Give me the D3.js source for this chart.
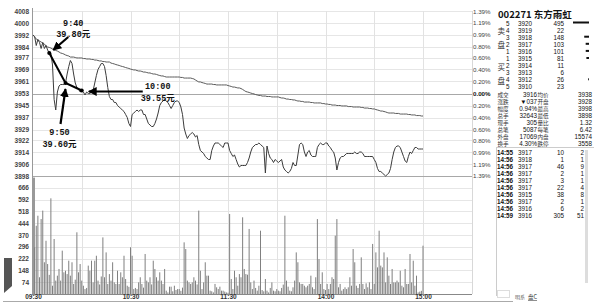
<!DOCTYPE html>
<html><head><meta charset="utf-8">
<script src="https://cdn.jsdelivr.net/npm/d3@7"></script>
<style>body{margin:0;background:#fff}svg{display:block}</style>
</head><body><svg id="c" width="594" height="308"></svg>
<script>
// ---------------- data ----------------
const prevClose = 3953;
const priceTicks = [4008,4000,3992,3984,3977,3969,3961,3953,3945,3937,3929,3922,3914,3906,3898];
const pctTicks = [1.39,1.19,0.99,0.80,0.60,0.40,0.20,0.00,-0.20,-0.40,-0.60,-0.80,-0.99,-1.19,-1.39];
const volTicks = [666,592,518,444,370,296,222,148,74];
const timeIdx = [0,60,120,180,240];
const timeText = ["09:30","10:30","11:30","14:00","15:00"];
const gridIdx = [30,60,90,120,150,180,210,240];

const price = [3992,3991,3985,3989,3987,3983,3987,3983,3985,3982,
 3980,3980,3972,3949,3942,3954,3958,3959,3959,3959,
 3960,3966,3971,3975,3973,3966,3960,3957,3956,3954,
 3955,3954,3952,3954,3953,3953,3954,3955,3960,3965,
 3969,3971,3973,3973,3971,3965,3957,3951,3949,3949,
 3947,3947,3945,3944,3943,3942,3941,3939,3937,3933,
 3931,3939,3940,3941,3942,3941,3942,3942,3939,3939,
 3936,3933,3932,3931,3931,3933,3936,3940,3945,3947,
 3948,3949,3948,3947,3945,3943,3945,3947,3948,3948,
 3947,3944,3939,3930,3926,3923,3925,3926,3927,3926,
 3924,3925,3919,3915,3914,3913,3911,3910,3909,3909,
 3915,3918,3920,3920,3920,3919,3918,3917,3920,3920,
 3920,3915,3913,3911,3912,3909,3906,3904,3905,3905,
 3905,3905,3907,3910,3914,3917,3918,3919,3919,3920,
 3919,3918,3917,3900,3918,3913,3910,3909,3907,3909,
 3908,3907,3908,3909,3904,3902,3901,3900,3901,3903,
 3907,3905,3905,3912,3919,3920,3919,3914,3911,3914,
 3915,3912,3911,3911,3911,3917,3919,3920,3919,3919,
 3920,3920,3918,3917,3915,3914,3910,3902,3907,3910,
 3911,3911,3912,3913,3913,3913,3913,3913,3914,3913,
 3913,3914,3914,3913,3911,3911,3911,3911,3911,3911,
 3909,3907,3903,3901,3901,3900,3899,3898,3899,3900,
 3903,3909,3914,3917,3918,3918,3917,3914,3911,3908,
 3907,3911,3914,3913,3915,3917,3917,3916,3916,3916,
 3916];

const avgPrice = [3992,3990.7,3989.3,3988.7,3988,3987.3,3986.7,3986,3984.7,3984,
 3983.7,3983.3,3982.7,3982,3981.7,3981.3,3980.7,3980,3979.7,3979.3,
 3978.7,3978.3,3978,3977.3,3977.3,3977.3,3977,3976.7,3976.7,3976.7,
 3976.7,3976.3,3976.3,3976,3976,3976,3975.7,3975.7,3975.3,3975.3,
 3975,3974.7,3974.7,3974.3,3974.3,3974,3974,3974,3973.3,3973,
 3972.7,3972.3,3972,3971.7,3971.3,3971,3970.7,3970.3,3970,3969.7,
 3969.3,3969,3968.7,3968.7,3968.3,3968,3968,3967.7,3967.3,3967.3,
 3967,3966.7,3966.7,3966.3,3966,3966,3965.7,3965.3,3965,3964.7,
 3964.7,3964.3,3964,3964,3964,3964,3964,3964,3964,3964,
 3964,3963.7,3963.7,3963.3,3963.3,3963.3,3963.3,3963.3,3963,3962.7,
 3962,3961.3,3960.7,3960.7,3960.3,3960,3959.7,3959.3,3959.3,3959.3,
 3959.3,3959,3959,3958.7,3958.7,3958.7,3958.7,3958.7,3958.7,3958.7,
 3958.3,3958,3957.7,3957.3,3957.3,3957,3956.7,3956.7,3956.3,3955.7,
 3955,3954.3,3954,3953.7,3953.3,3953,3952.7,3952.3,3952,3951.7,
 3951.7,3951.3,3951.3,3951.3,3951,3951,3951,3950.7,3950.7,3950.7,
 3950.7,3950.7,3950.3,3950,3950,3949.7,3949.3,3949.3,3949,3949,
 3948.7,3948.7,3948.3,3948,3948,3947.7,3947.7,3947.3,3947.3,3947.3,
 3947.3,3947,3947,3946.7,3946.7,3946.7,3946.7,3946.7,3946.3,3946.3,
 3946,3946,3945.7,3945.7,3945.3,3945.3,3945.3,3945,3945,3945,
 3944.7,3944.7,3944.7,3944.7,3944.3,3944.3,3944.3,3944,3944,3944,
 3944,3944,3943.7,3943.7,3943.3,3943.3,3943.3,3943,3943,3942.7,
 3942.7,3942.3,3942,3941.7,3941.3,3941.3,3941,3940.7,3940.3,3940,
 3940,3940,3940,3939.7,3939.7,3939.7,3939.3,3939.3,3939.3,3939.3,
 3939.3,3939,3939,3938.7,3938.7,3938.7,3938.3,3938.3,3938.3,3938,
 3938];

const volume = [730,293,428,491,105,470,523,199,334,188,
 120,600,52,345,84,115,157,84,272,136,
 146,125,209,115,199,63,90,387,136,188,
 84,52,31,38,178,146,209,73,209,240,
 84,60,110,355,105,261,63,125,84,199,
 73,63,146,63,136,105,240,94,52,45,
 293,240,31,38,31,73,105,63,40,251,
 84,73,105,60,209,157,105,84,136,84,
 63,157,21,10,46,46,17,52,25,31,
 31,20,40,324,282,84,73,63,73,105,
 84,60,523,146,31,73,199,115,115,21,
 17,10,63,42,31,46,21,21,15,10,
 8,502,94,31,146,105,52,125,105,481,
 157,125,121,408,73,31,84,38,21,52,
 397,25,17,94,21,10,38,73,21,17,
 31,21,17,38,59,491,84,46,21,17,
 42,84,261,199,73,63,63,52,42,52,
 63,115,42,31,105,470,219,63,136,31,
 25,63,31,63,105,94,366,470,42,63,
 21,31,42,31,42,105,52,282,199,52,
 38,63,230,63,31,67,42,73,31,314,
 63,261,167,397,178,167,261,73,230,115,
 63,157,73,73,84,73,146,52,42,157,
 63,63,251,73,209,52,115,10,15,20,
 303];

const noteIdx = [10,20,30];
const noteTime = ["9:40","9:50","10:00"];
const notePrice = ["39.80元","39.60元","39.55元"];

const title = "002271 东方雨虹";
const bookLevel = ["5","4","3","2","1","1","2","3","4","5"];
const bookChar  = ["","卖","","盘","","","买","","盘",""];
const bookPrice = ["3920","3919","3918","3917","3916","3915","3914","3913","3912","3910"];
const bookVol   = [495,22,148,103,101,81,11,6,26,23];

const statLabel = ["成交","涨跌","幅度","总手","现手","总笔","外盘","换手"];
const statVal1  = ["3916","▼037","0.94%","32643","305","5087","17069","4.30%"];
const statMid   = ["均价","开盘","最高","最低","量比","每笔","内盘","跌停"];
const statVal2  = ["3938","3928","3998","3898","1.32","6.42","15574","3558"];

const tradeTime  = ["14:55","14:56","14:56","14:56","14:56","14:56","14:56","14:56","14:56","14:59"];
const tradePrice = ["3917","3918","3917","3917","3917","3917","3915","3917","3916","3916"];
const tradeVol   = [10,1,46,2,3,22,38,2,6,305];
const tradeCnt   = [2,1,9,1,1,4,8,1,2,51];

// ---------------- layout ----------------
const L = 33, R = 423, panelR = 472, pTop = 11, pBot = 176, vBot = 294;
const x  = d3.scaleLinear().domain([0, 240]).range([L, R]);
const yP = d3.scaleLinear().domain([3898, 4008]).range([pBot, pTop]);
const yV = d3.scaleLinear().domain([0, 740]).range([vBot, pBot]);
const svg = d3.select('#c');
svg.append('rect').attr('width',594).attr('height',308).attr('fill','#fff');

const NUM = "'Liberation Sans', Arial, sans-serif";
const CJK = "'Noto Sans CJK SC', sans-serif";
const MONO = "'Liberation Mono', 'Noto Sans CJK SC', monospace";

// grid
const grid = svg.append('g');
priceTicks.forEach(t => {
  const yy = Math.round(yP(t)) + 0.5;
  grid.append('line').attr('x1', L - 1).attr('x2', panelR).attr('y1', yy).attr('y2', yy)
    .attr('stroke', '#e6e6e6').attr('stroke-width', 1);
});
volTicks.forEach(t => {
  const yy = Math.round(yV(t)) + 0.5;
  grid.append('line').attr('x1', L - 1).attr('x2', panelR).attr('y1', yy).attr('y2', yy)
    .attr('stroke', '#e6e6e6');
});
gridIdx.forEach(i => {
  const xx = Math.round(x(i)) + 0.5;
  grid.append('line').attr('x1', xx).attr('x2', xx).attr('y1', pTop).attr('y2', vBot)
    .attr('stroke', '#e2e2e2');
});
const y0 = Math.round(yP(prevClose)) + 0.5;
grid.append('line').attr('x1', L - 1).attr('x2', panelR).attr('y1', y0).attr('y2', y0).attr('stroke', '#a8a8a8');
grid.append('line').attr('x1', L - 1).attr('x2', panelR).attr('y1', pBot + 0.5).attr('y2', pBot + 0.5).attr('stroke', '#a8a8a8');
grid.append('line').attr('x1', L - 0.5).attr('x2', L - 0.5).attr('y1', pTop - 3).attr('y2', vBot).attr('stroke', '#999');
grid.append('line').attr('x1', panelR + 0.5).attr('x2', panelR + 0.5).attr('y1', pTop).attr('y2', vBot).attr('stroke', '#d8d8d8');
grid.append('line').attr('x1', L - 1).attr('x2', panelR).attr('y1', vBot + 0.5).attr('y2', vBot + 0.5).attr('stroke', '#888');
grid.append('line').attr('x1', 3).attr('x2', 513).attr('y1', 301.5).attr('y2', 301.5).attr('stroke', '#aaa');

// axes
function styleAxis(sel, size) {
  sel.select('.domain').remove();
  sel.selectAll('.tick line').remove();
  sel.selectAll('text').attr('font-family', NUM).attr('font-size', size)
    .attr('font-weight', 'bold').attr('fill', '#444');
}
svg.append('g').attr('transform', `translate(${L - 1},0)`)
  .call(d3.axisLeft(yP).tickValues(priceTicks).tickFormat(d => d).tickSize(0).tickPadding(3))
  .call(s => styleAxis(s, 6.5));
svg.append('g').attr('transform', `translate(${L - 1},0)`)
  .call(d3.axisLeft(yV).tickValues(volTicks).tickFormat(d => d).tickSize(0).tickPadding(3))
  .call(s => styleAxis(s, 6.5));
svg.append('g').attr('transform', `translate(${panelR},0)`)
  .call(d3.axisRight(yP).tickValues(pctTicks.map(p => prevClose * (1 + p / 100)))
    .tickFormat((d, k) => Math.abs(pctTicks[k]).toFixed(2) + '%').tickSize(0).tickPadding(1))
  .call(s => {
    styleAxis(s, 6.2);
    s.selectAll('text').attr('font-weight', (d, k) => pctTicks[k] === 0 ? 'bold' : 'normal')
      .attr('fill', (d, k) => pctTicks[k] === 0 ? '#111' : '#444');
  });
svg.append('g').attr('transform', `translate(0,${vBot})`)
  .call(d3.axisBottom(x).tickValues(timeIdx).tickFormat((d, k) => timeText[k]).tickSize(0).tickPadding(1))
  .call(s => { styleAxis(s, 6.5); s.selectAll('text').attr('fill', '#333').attr('dy', '0.6em'); });

// left tab
svg.append('polygon').attr('points', '4,258 12,258 12,286 4,293').attr('fill', '#555');

// volume bars
svg.append('g').selectAll('rect').data(volume).join('rect')
  .attr('x', (d, i) => x(i) - (i === 0 ? 1 : 0.5))
  .attr('width', (d, i) => i === 0 ? 3 : 1)
  .attr('y', d => yV(d)).attr('height', d => vBot - yV(d))
  .attr('fill', (d, i) => i === 0 ? '#999' : '#808080');

// lines
svg.append('path').datum(avgPrice)
  .attr('d', d3.line().x((d, i) => x(i)).y(d => yP(d)))
  .attr('fill', 'none').attr('stroke', '#5a5a5a').attr('stroke-width', 1);
svg.append('path').datum(price)
  .attr('d', d3.line().x((d, i) => x(i)).y(d => yP(d)))
  .attr('fill', 'none').attr('stroke', '#3c3c3c').attr('stroke-width', 1);

// annotations
const defs = svg.append('defs');
defs.append('marker').attr('id', 'ah').attr('viewBox', '0 0 10 10').attr('refX', 9).attr('refY', 5)
  .attr('markerWidth', 4).attr('markerHeight', 4).attr('orient', 'auto-start-reverse')
  .append('path').attr('d', 'M0,0 L10,5 L0,10 Z').attr('fill', '#000');
const pts = noteIdx.map(i => [x(i), yP(price[i])]);
svg.append('path').attr('d', d3.line()(pts)).attr('fill', 'none').attr('stroke', '#000').attr('stroke-width', 2);
svg.append('g').selectAll('circle').data(pts).join('circle')
  .attr('cx', d => d[0]).attr('cy', d => d[1]).attr('r', 2).attr('fill', '#000');
const arrowFrom = [[19, -16], [-5, 41], [61, 1]];
const arrowTo   = [[4, -3], [0, 6], [7, 1]];
const labelPos  = [[24, -27, -16], [-6, 52, 64], [76, -2, 10]];
pts.forEach((p, k) => {
  svg.append('line').attr('x1', p[0] + arrowFrom[k][0]).attr('y1', p[1] + arrowFrom[k][1])
    .attr('x2', p[0] + arrowTo[k][0]).attr('y2', p[1] + arrowTo[k][1])
    .attr('stroke', '#000').attr('stroke-width', 2.2).attr('marker-end', 'url(#ah)');
  const t = svg.append('text').attr('font-family', MONO).attr('font-size', 8.5)
    .attr('font-weight', 'bold').attr('fill', '#111').attr('text-anchor', 'middle');
  t.append('tspan').attr('x', p[0] + labelPos[k][0]).attr('y', p[1] + labelPos[k][1]).text(noteTime[k]);
  t.append('tspan').attr('x', p[0] + labelPos[k][0]).attr('y', p[1] + labelPos[k][2]).text(notePrice[k]);
});

// ---------------- right info panel ----------------
const T = svg.append('g').attr('font-family', NUM).attr('fill', '#111');
T.append('text').attr('x', 498).attr('y', 18).attr('font-family', CJK).attr('font-size', 9.5)
  .attr('font-weight', 'bold').attr('fill', '#111').text(title);

function column(values, xPos, yFn, opts = {}) {
  const t = T.append('text').attr('font-size', opts.size || 6.3)
    .attr('text-anchor', opts.anchor || 'start');
  if (opts.family) t.attr('font-family', opts.family);
  if (opts.fill) t.attr('fill', opts.fill);
  if (opts.weight) t.attr('font-weight', opts.weight);
  values.forEach((v, k) => {
    if (v === '' || v === null) return;
    t.append('tspan').attr('x', xPos).attr('y', yFn(k)).text(v);
  });
  return t;
}
const bookY = k => 25.5 + k * 7.1;
const statY = k => 25.5 + (10 + k) * 7.1;
const tradeY = k => 154.5 + k * 7;

column(bookChar, 497.5, k => bookY(k) + 1.5, {family: CJK, size: 7.5, fill: '#333'});
column(bookLevel, 506, bookY);
column(bookPrice, 518, bookY);
column(bookVol.map(String), 564, bookY, {anchor: 'end'});
const bookBar = d3.scaleLinear().domain([0, 495]).range([0, 16]);
T.append('g').selectAll('rect').data(bookVol).join('rect')
  .attr('x', d => 589 - bookBar(d)).attr('y', (d, k) => bookY(k) - 4)
  .attr('width', d => bookBar(d) >= 0.8 ? bookBar(d) : 0).attr('height', 2).attr('fill', '#111');

column(statLabel, 497.5, statY, {family: CJK, size: 5.6, fill: '#333'});
column(statVal1, 537, statY, {anchor: 'end'});
column(statMid, 537.5, statY, {family: CJK, size: 5.6, fill: '#333'});
column(statVal2, 592, statY, {anchor: 'end'});

svg.append('line').attr('x1', 496).attr('x2', 594).attr('y1', 147.5).attr('y2', 147.5).attr('stroke', '#ccc');
svg.append('line').attr('x1', 496.5).attr('x2', 496.5).attr('y1', 147).attr('y2', 296).attr('stroke', '#ccc');
svg.append('rect').attr('x', 585).attr('y', 150).attr('width', 3).attr('height', 133).attr('fill', '#ddd');

column(tradeTime, 497, tradeY, {weight: 'bold'});
column(tradePrice, 518, tradeY);
column(tradeVol.map(String), 564, tradeY, {anchor: 'end'});
column(tradeCnt.map(String), 584, tradeY, {anchor: 'end'});

svg.append('rect').attr('x', 497.5).attr('y', 290.5).attr('width', 12).attr('height', 7).attr('fill', 'none').attr('stroke', '#ddd');
const foot = T.append('text').attr('y', 299).attr('font-family', CJK);
foot.append('tspan').attr('x', 515).attr('font-size', 5).attr('fill', '#555').text('明系');
foot.append('tspan').attr('x', 528).attr('font-size', 5.5).attr('fill', '#333')
  .attr('text-decoration', 'underline').text('盘C');
</script></body></html>
